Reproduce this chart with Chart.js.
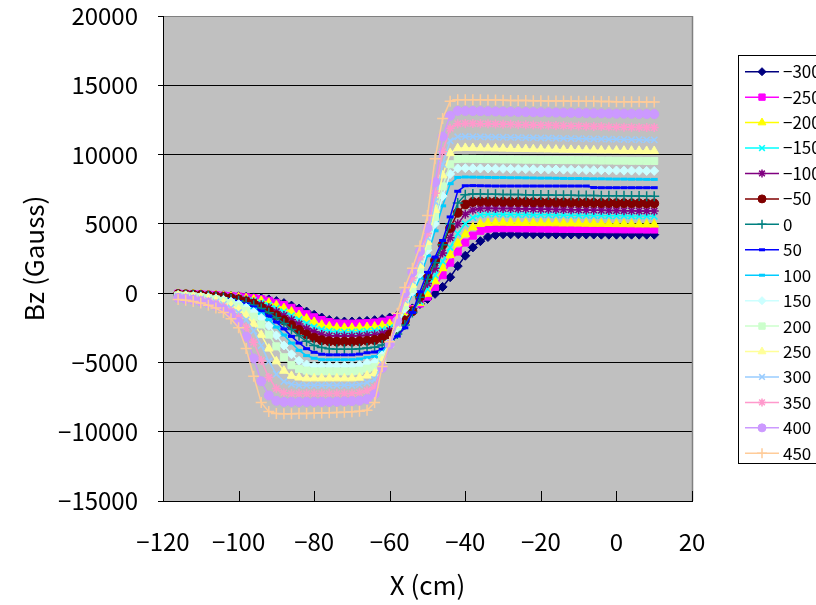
<!DOCTYPE html>
<html>
<head>
<meta charset="utf-8">
<script src="https://cdn.jsdelivr.net/npm/chart.js@4.4.1/dist/chart.umd.min.js"></script>
<style>
  body { margin: 0; background: #fff; }
  canvas { display: block; }
</style>
</head>
<body>
<canvas id="bzChart" width="816" height="605"></canvas>
<script>
// X positions (cm)
const xValues = [-116,-114,-112,-110,-108,-106,-104,-102,-100,-98,-96,-94,-92,-90,-88,-86,-84,-82,-80,-78,-76,-74,-72,-70,-68,-66,-64,-62,-60,-58,-56,-54,-52,-50,-48,-46,-44,-42,-40,-38,-36,-34,-32,-30,-28,-26,-24,-22,-20,-18,-16,-14,-12,-10,-8,-6,-4,-2,0,2,4,6,8,10];

const seriesLabels = ["-300", "-250", "-200", "-150", "-100", "-50", "0", "50", "100", "150", "200", "250", "300", "350", "400", "450"];

// Bz (Gauss)
const bzM300 = [-40,-50,-60,-80,-100,-130,-160,-190,-230,-270,-310,-370,-450,-570,-720,-900,-1110,-1330,-1560,-1760,-1930,-2010,-2050,-2050,-2030,-2000,-1950,-1870,-1760,-1600,-1380,-1100,-780,-420,-50,450,1150,1950,2700,3300,3750,4050,4200,4250,4250,4250,4240,4240,4240,4240,4230,4230,4230,4230,4230,4230,4220,4220,4220,4220,4220,4220,4220,4220];
const bzM250 = [-40,-60,-70,-90,-110,-140,-180,-210,-250,-300,-360,-440,-550,-700,-860,-1060,-1280,-1520,-1740,-1940,-2090,-2180,-2200,-2200,-2180,-2160,-2120,-2050,-1930,-1760,-1500,-1150,-750,-250,450,1300,2200,3000,3650,4150,4500,4650,4680,4680,4680,4670,4670,4660,4660,4650,4650,4640,4640,4630,4630,4620,4620,4610,4610,4600,4600,4600,4590,4590];
const bzM200 = [-50,-60,-80,-100,-130,-160,-200,-240,-300,-370,-450,-550,-700,-880,-1080,-1330,-1580,-1830,-2080,-2280,-2400,-2480,-2500,-2500,-2480,-2450,-2410,-2340,-2220,-2020,-1720,-1250,-700,-50,850,1800,2750,3600,4250,4750,5000,5060,5080,5080,5070,5070,5060,5060,5050,5050,5040,5030,5030,5020,5010,5000,5000,4990,4980,4980,4970,4960,4960,4950];
const bzM150 = [-60,-70,-80,-110,-140,-180,-220,-270,-340,-430,-540,-690,-870,-1090,-1340,-1620,-1900,-2180,-2440,-2630,-2740,-2800,-2800,-2800,-2780,-2740,-2700,-2620,-2470,-2230,-1850,-1300,-600,300,1300,2300,3300,4300,5000,5450,5650,5700,5700,5690,5680,5680,5670,5660,5650,5650,5640,5630,5620,5620,5610,5600,5600,5590,5580,5580,5570,5560,5560,5550];
const bzM100 = [-60,-80,-90,-120,-160,-200,-250,-310,-390,-500,-640,-840,-1050,-1330,-1610,-1920,-2230,-2540,-2790,-2980,-3070,-3100,-3100,-3100,-3080,-3040,-3000,-2900,-2700,-2400,-1900,-1300,-450,700,1800,2900,4000,5000,5700,6000,6100,6120,6110,6110,6100,6090,6080,6070,6060,6050,6040,6030,6020,6010,6000,5990,5980,5970,5960,5950,5940,5930,5930,5920];
const bzM50 = [-70,-90,-110,-140,-180,-230,-280,-350,-460,-600,-770,-1020,-1300,-1610,-1960,-2310,-2660,-2980,-3220,-3400,-3470,-3500,-3500,-3500,-3470,-3430,-3380,-3250,-3000,-2600,-2000,-1300,-250,1150,2350,3500,4700,5800,6400,6580,6600,6600,6590,6590,6580,6580,6570,6560,6560,6550,6540,6540,6530,6520,6520,6510,6500,6500,6490,6490,6480,6480,6470,6470];
const bz0 = [-90,-110,-130,-170,-210,-270,-340,-430,-540,-690,-870,-1110,-1420,-1780,-2190,-2630,-3080,-3480,-3770,-3930,-4010,-4050,-4050,-4050,-4020,-3950,-3900,-3750,-3450,-2950,-2300,-1400,-300,1000,2200,3500,5000,6500,7100,7150,7150,7140,7130,7120,7110,7110,7100,7090,7090,7080,7070,7060,7060,7050,7050,7040,7030,7030,7020,7020,7010,7010,7000,7000];
const bz50 = [-100,-120,-150,-190,-240,-300,-380,-480,-610,-780,-1000,-1290,-1650,-2090,-2580,-3120,-3600,-4010,-4270,-4410,-4450,-4450,-4450,-4450,-4400,-4300,-4250,-4050,-3600,-3100,-2500,-1400,100,1500,2600,3800,5500,7350,7750,7760,7750,7740,7730,7730,7730,7730,7730,7730,7730,7730,7730,7730,7730,7730,7730,7620,7610,7610,7610,7610,7610,7610,7610,7610];
const bz100 = [-120,-140,-170,-220,-270,-340,-420,-540,-690,-890,-1150,-1490,-1920,-2450,-3020,-3600,-4130,-4510,-4700,-4800,-4800,-4800,-4800,-4800,-4750,-4650,-4580,-4250,-3500,-2500,-1200,-100,1100,2700,4500,6300,7900,8350,8380,8370,8360,8350,8340,8340,8330,8330,8320,8310,8300,8300,8290,8280,8270,8270,8260,8250,8250,8240,8230,8230,8220,8220,8210,8210];
const bz150 = [-140,-160,-200,-250,-300,-380,-480,-620,-800,-1050,-1370,-1790,-2360,-3050,-3780,-4410,-4880,-5150,-5250,-5250,-5250,-5250,-5250,-5250,-5200,-5050,-4980,-4500,-3600,-2500,-1100,100,1400,3100,5000,7000,8600,9000,9020,9010,9000,8990,8980,8970,8960,8960,8950,8940,8930,8920,8920,8910,8900,8890,8880,8870,8870,8860,8850,8840,8840,8830,8820,8820];
const bz200 = [-160,-190,-230,-280,-360,-450,-570,-730,-960,-1270,-1700,-2260,-2990,-3840,-4630,-5200,-5480,-5590,-5650,-5650,-5650,-5650,-5650,-5650,-5600,-5450,-5350,-4700,-3650,-2400,-900,300,1700,3400,5500,7700,9300,9680,9700,9690,9680,9670,9660,9650,9650,9640,9630,9630,9620,9620,9610,9600,9600,9590,9590,9580,9570,9570,9560,9560,9550,9550,9540,9540];
const bz250 = [-180,-220,-280,-340,-420,-540,-690,-900,-1190,-1600,-2210,-3010,-4000,-4920,-5600,-5970,-6090,-6150,-6150,-6150,-6150,-6150,-6150,-6150,-6100,-5950,-5800,-4900,-3700,-2300,-700,600,2000,3700,6000,8500,10100,10460,10480,10470,10460,10450,10440,10430,10420,10410,10400,10390,10380,10370,10360,10350,10340,10330,10320,10310,10300,10300,10290,10280,10280,10270,10260,10260];
const bz300 = [-230,-270,-330,-410,-510,-640,-820,-1060,-1400,-1930,-2730,-3790,-4920,-5850,-6380,-6580,-6650,-6650,-6650,-6650,-6650,-6650,-6650,-6650,-6600,-6450,-6250,-5100,-3700,-2200,-500,900,2300,4000,6600,9300,11000,11280,11300,11290,11280,11270,11260,11250,11240,11230,11220,11210,11200,11190,11180,11170,11160,11150,11140,11130,11120,11110,11100,11090,11080,11070,11060,11060];
const bz350 = [-290,-340,-410,-500,-610,-770,-990,-1290,-1740,-2470,-3550,-4860,-6090,-6890,-7180,-7250,-7250,-7250,-7250,-7250,-7250,-7250,-7250,-7250,-7180,-7050,-6800,-5300,-3700,-2100,-300,1100,2600,4300,7200,10200,11900,12230,12250,12240,12230,12220,12200,12190,12180,12160,12150,12140,12120,12110,12100,12080,12070,12060,12040,12030,12020,12000,11990,11980,11970,11960,11950,11950];
const bz400 = [-350,-420,-490,-600,-720,-910,-1160,-1520,-2080,-3140,-4710,-6360,-7380,-7770,-7850,-7850,-7850,-7850,-7850,-7850,-7850,-7830,-7810,-7790,-7760,-7650,-7300,-5400,-3700,-2000,0,1500,3000,4700,8000,11300,12800,13150,13150,13140,13130,13120,13110,13100,13090,13080,13070,13060,13050,13040,13030,13020,13010,13000,12990,12980,12970,12960,12950,12950,12940,12930,12930,12920];
const bz450 = [-450,-520,-600,-720,-880,-1080,-1400,-1850,-2500,-4000,-6000,-7900,-8550,-8680,-8700,-8700,-8690,-8680,-8660,-8650,-8630,-8610,-8590,-8560,-8520,-8450,-7900,-5300,-3500,-1450,400,1800,3400,5600,9700,12600,13850,13950,13950,13950,13950,13940,13930,13920,13910,13900,13900,13890,13880,13870,13870,13860,13850,13850,13840,13840,13830,13830,13820,13820,13810,13810,13800,13800];

const seriesValues = [bzM300, bzM250, bzM200, bzM150, bzM100, bzM50, bz0, bz50, bz100, bz150, bz200, bz250, bz300, bz350, bz400, bz450];

// axis ticks
const xTicks = [-120, -100, -80, -60, -40, -20, 0, 20];
const yTicks = [-15000, -10000, -5000, 0, 5000, 10000, 15000, 20000];

// Excel style look per series
const colors = ["#000080", "#FF00FF", "#FFFF00", "#00FFFF", "#800080", "#800000", "#008080", "#0000FF",
                "#00CCFF", "#CCFFFF", "#CCFFCC", "#FFFF99", "#99CCFF", "#FF99CC", "#CC99FF", "#FFCC99"];
const markers = ["rectRot", "rect", "triangle", "crossRot", "star", "circle", "cross", "line",
                 "line", "rectRot", "rect", "triangle", "crossRot", "star", "circle", "cross"];
const markerSizes = [4.5, 5, 5, 4.5, 4.5, 4.5, 5, 3.5, 3.5, 4.5, 5, 5, 4.5, 4.5, 4.5, 5.5];
const markerWidths = [1, 1, 1, 1.5, 1.5, 1, 1.5, 3, 3, 1, 1, 1, 1.5, 1.5, 1, 1.5];

const fontFamily = '"Noto Sans CJK JP", "Noto Sans", sans-serif';
const minus = (s) => String(s).replace("-", "\u2212");

const datasets = seriesLabels.map((label, i) => ({
  label: label,
  data: xValues.map((x, j) => ({ x: x, y: seriesValues[i][j] })),
  showLine: true,
  borderColor: colors[i],
  backgroundColor: colors[i],
  borderWidth: 1.5,
  pointStyle: markers[i],
  pointRadius: markerSizes[i],
  pointBorderWidth: markerWidths[i],
  pointBackgroundColor: colors[i],
  pointBorderColor: colors[i],
  tension: 0,
  order: seriesLabels.length - i
}));

const plotLook = {
  id: "plotLook",
  beforeDraw(chart) {
    const { ctx, chartArea } = chart;
    ctx.save();
    ctx.fillStyle = "#C0C0C0";
    ctx.fillRect(chartArea.left, chartArea.top, chartArea.right - chartArea.left, chartArea.bottom - chartArea.top);
    ctx.restore();
  },
  afterDraw(chart) {
    const { ctx, chartArea } = chart;
    const xScale = chart.scales.x;
    ctx.save();
    // gray frame on the right
    ctx.strokeStyle = "#808080";
    ctx.lineWidth = 1.5;
    ctx.beginPath();
    ctx.moveTo(Math.round(chartArea.right) + 0.5, chartArea.top);
    ctx.lineTo(Math.round(chartArea.right) + 0.5, chartArea.bottom);
    ctx.stroke();
    // x tick marks, inside
    ctx.strokeStyle = "#000";
    ctx.lineWidth = 1;
    xTicks.forEach((v) => {
      const px = Math.round(xScale.getPixelForValue(v)) + 0.5;
      ctx.beginPath();
      ctx.moveTo(px, chartArea.bottom);
      ctx.lineTo(px, chartArea.bottom - 10);
      ctx.stroke();
    });

    // legend box
    ctx.fillStyle = "#fff";
    ctx.fillRect(739, 56, 90, 407);
    ctx.strokeStyle = "#000";
    ctx.lineWidth = 1;
    ctx.strokeRect(738.5, 55.5, 100, 408);
    chart.data.datasets.forEach((ds, i) => {
      const y = 71.7 + i * 25.44;
      ctx.strokeStyle = ds.borderColor;
      ctx.lineWidth = ds.borderWidth;
      ctx.beginPath();
      ctx.moveTo(745, y);
      ctx.lineTo(779, y);
      ctx.stroke();
      ctx.fillStyle = ds.pointBackgroundColor;
      ctx.strokeStyle = ds.pointBorderColor;
      ctx.lineWidth = ds.pointBorderWidth;
      if (Chart.helpers && Chart.helpers.drawPoint) {
        Chart.helpers.drawPoint(ctx, { pointStyle: ds.pointStyle, radius: ds.pointRadius - 0.5, rotation: 0, borderWidth: ds.pointBorderWidth }, 762, y);
      }
      ctx.fillStyle = "#000";
      ctx.font = "17px " + fontFamily;
      ctx.textAlign = "left";
      ctx.textBaseline = "middle";
      ctx.fillText(minus(ds.label), 783, y);
    });
    ctx.restore();
  }
};

new Chart(document.getElementById("bzChart"), {
  type: "scatter",
  data: { datasets: datasets },
  options: {
    responsive: false,
    animation: false,
    layout: { padding: { left: 15, right: 124, top: 16, bottom: 0 } },
    plugins: {
      legend: { display: false },
      tooltip: { enabled: false }
    },
    scales: {
      x: {
        type: "linear",
        min: -120,
        max: 20,
        afterBuildTicks: (scale) => { scale.ticks = xTicks.map((v) => ({ value: v })); },
        afterFit: (scale) => {
          scale.height = 104;
          scale.paddingLeft = 0;
          scale.paddingRight = 0;
        },
        ticks: {
          color: "#000",
          padding: 26,
          font: { family: fontFamily, size: 24 },
          callback: (v) => minus(v)
        },
        grid: { drawOnChartArea: false, drawTicks: false },
        border: { color: "#000", width: 1 },
        title: {
          display: true,
          text: "X (cm)",
          color: "#000",
          font: { family: fontFamily, size: 26 },
          padding: { top: 0, bottom: 4 }
        }
      },
      y: {
        min: -15000,
        max: 20000,
        afterBuildTicks: (scale) => { scale.ticks = yTicks.map((v) => ({ value: v })); },
        afterFit: (scale) => {
          scale.width = 148;
          scale.paddingTop = 0;
          scale.paddingBottom = 0;
        },
        ticks: {
          color: "#000",
          padding: 20,
          font: { family: fontFamily, size: 24 },
          callback: (v) => minus(v)
        },
        grid: {
          color: (c) => (c.tick && c.tick.value === 20000 ? "#808080" : "#000"),
          tickColor: "#000",
          tickLength: 5,
          lineWidth: 1
        },
        border: { color: "#000", width: 1 },
        title: {
          display: true,
          text: "Bz (Gauss)",
          color: "#000",
          font: { family: fontFamily, size: 26 },
          padding: { top: 4, bottom: 0 }
        }
      }
    }
  },
  plugins: [plotLook]
});
</script>
</body>
</html>
